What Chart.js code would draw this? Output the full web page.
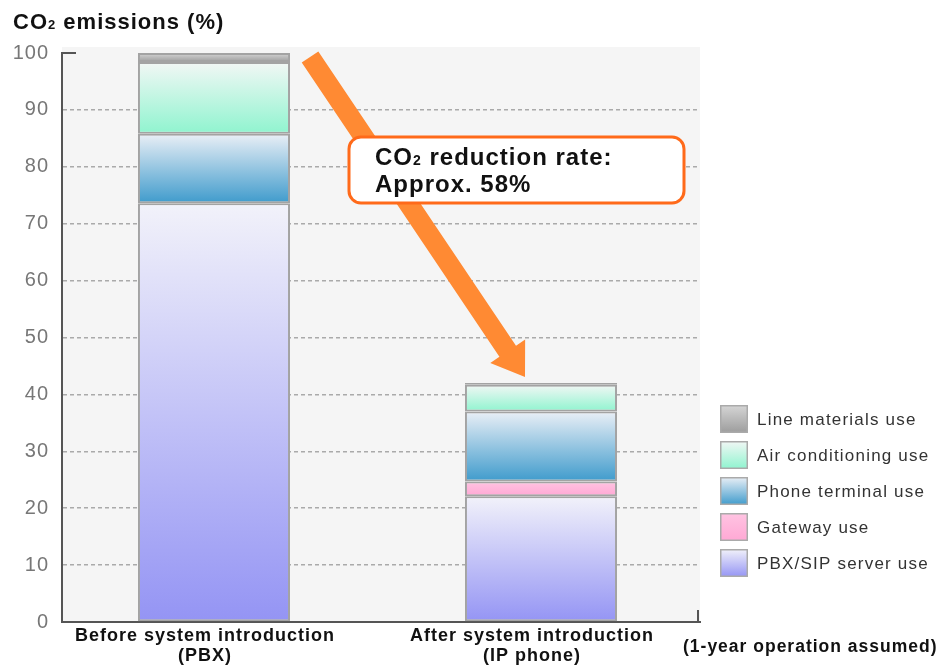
<!DOCTYPE html>
<html>
<head>
<meta charset="utf-8">
<script src="https://cdn.jsdelivr.net/npm/chart.js@4.4.1/dist/chart.umd.min.js"></script>
<style>
  html, body { margin: 0; padding: 0; background: #fff; }
  #wrap { width: 946px; height: 667px; position: relative; }
</style>
</head>
<body>
<div id="wrap"><canvas id="co2Chart"></canvas></div>
<script>
/* ========================================
   CO2 emissions before / after IP phone
   ======================================== */

// data (bottom segment first)
const categories = [['Before system introduction', '(PBX)'], ['After system introduction', '(IP phone)']];
const seriesNames = ['PBX/SIP server use', 'Gateway use', 'Phone terminal use', 'Air conditioning use', 'Line materials use'];
const pbxServerUse = [73.6, 22.1];
const gatewayUse = [null, 2.6];
const phoneTerminalUse = [12.2, 12.3];
const airConditioningUse = [12.6, 4.7];
const lineMaterialsUse = [1.6, 0.3];
const yTicks = [0, 10, 20, 30, 40, 50, 60, 70, 80, 90, 100];
const calloutLines = ['reduction rate:', 'Approx. 58%'];
const footNote = '(1-year operation assumed)';

// gradient colours, top -> bottom of each segment
const segColors = [
    ['#f2f2fa', '#9494f4'],
    ['#ffc4e2', '#ffa8d4'],
    ['#eaeff6', '#3f9bcc'],
    ['#f2f7f5', '#8ff4cf'],
    ['#d6d6d6', '#9c9c9c']
];

// category axis whose band runs a little past the plot edges
class WideCategoryScale extends Chart.CategoryScale {
    configure() {
        super.configure();
        this._startPixel -= 11.5;
        this._endPixel += 4.5;
        this._length = this._endPixel - this._startPixel;
    }
}
WideCategoryScale.id = 'wideCategory';
WideCategoryScale.defaults = Chart.CategoryScale.defaults;
Chart.register(WideCategoryScale);

function segGradient(idx) {
    const [top, bottom] = segColors[idx];
    return function (ctx) {
        const chart = ctx.chart;
        const y = chart.scales.y;
        if (!chart.chartArea || !y || ctx.dataIndex === undefined) return bottom;
        const ds = chart.data.datasets;
        let start = 0;
        for (let i = 0; i < ctx.datasetIndex; i++) start += ds[i].data[ctx.dataIndex] || 0;
        const end = start + (ds[ctx.datasetIndex].data[ctx.dataIndex] || 0);
        const y0 = y.getPixelForValue(start), y1 = y.getPixelForValue(end);
        if (!isFinite(y0) || !isFinite(y1) || y0 === y1) return bottom;
        const g = chart.ctx.createLinearGradient(0, y1, 0, y0);
        g.addColorStop(0, top);
        g.addColorStop(1, bottom);
        return g;
    };
}

function subText(ctx, x, y, parts) {
    parts.forEach(p => {
        ctx.font = p[1];
        ctx.fillText(p[0], x, y);
        x += ctx.measureText(p[0]).width;
    });
    return x;
}

const FONT = '"Liberation Sans", Arial, sans-serif';

const decorPlugin = {
    id: 'decor',
    beforeDraw(chart) {
        const { ctx, chartArea: a } = chart;
        ctx.letterSpacing = '1px';
        ctx.save();
        ctx.fillStyle = '#f5f5f5';
        ctx.fillRect(a.left, a.top - 6, a.right - a.left, a.bottom - a.top + 6);
        ctx.restore();
    },
    afterDraw(chart) {
        const { ctx, chartArea: a } = chart;
        const y = chart.scales.y;
        ctx.save();

        // axis end ticks
        ctx.strokeStyle = '#555';
        ctx.lineWidth = 2;
        ctx.beginPath();
        ctx.moveTo(a.left, a.top); ctx.lineTo(a.left + 14, a.top);
        ctx.moveTo(a.right - 2, a.bottom); ctx.lineTo(a.right - 2, a.bottom - 12);
        ctx.stroke();

        // title
        ctx.fillStyle = '#111';
        ctx.textBaseline = 'alphabetic';
        ctx.textAlign = 'left';
        subText(ctx, 13, 29, [
            ['CO', 'bold 22px ' + FONT],
            ['2', 'bold 13px ' + FONT],
            [' emissions (%)', 'bold 22px ' + FONT]
        ]);

        // arrow from bar 1 top to bar 2 top
        const total = i => chart.data.datasets.reduce((s, d) => s + (d.data[i] || 0), 0);
        const bar1 = chart.getDatasetMeta(4).data[0];
        const bar2 = chart.getDatasetMeta(4).data[1];
        const sx = bar1.x + bar1.width / 2 + 20, sy = y.getPixelForValue(total(0)) + 4;
        const tx = bar2.x - 16, ty = y.getPixelForValue(total(1)) - 6;
        const dx = tx - sx, dy = ty - sy, len = Math.hypot(dx, dy);
        const ux = dx / len, uy = dy / len, nx = -uy, ny = ux;
        const hw = 10, headW = 21, headL = 31;
        const bx = tx - ux * headL, by = ty - uy * headL;
        ctx.fillStyle = '#ff8a33';
        ctx.beginPath();
        ctx.moveTo(sx + nx * hw, sy + ny * hw);
        ctx.lineTo(bx + nx * hw, by + ny * hw);
        ctx.lineTo(bx + nx * headW, by + ny * headW);
        ctx.lineTo(tx, ty);
        ctx.lineTo(bx - nx * headW, by - ny * headW);
        ctx.lineTo(bx - nx * hw, by - ny * hw);
        ctx.lineTo(sx - nx * hw, sy - ny * hw);
        ctx.closePath();
        ctx.fill();

        // callout box
        const cx = 349, cy = 137, cw = 335, ch = 66;
        ctx.beginPath();
        ctx.roundRect(cx, cy, cw, ch, 12);
        ctx.fillStyle = '#fff';
        ctx.fill();
        ctx.lineWidth = 3;
        ctx.strokeStyle = '#ff6a1a';
        ctx.stroke();
        ctx.fillStyle = '#111';
        subText(ctx, 375, 165, [
            ['CO', 'bold 24px ' + FONT],
            ['2', 'bold 14px ' + FONT],
            [' ' + calloutLines[0], 'bold 24px ' + FONT]
        ]);
        ctx.font = 'bold 24px ' + FONT;
        ctx.fillText(calloutLines[1], 375, 192);

        // legend (top item = top segment)
        ctx.font = '17px ' + FONT;
        ctx.letterSpacing = '1.2px';
        ctx.textBaseline = 'middle';
        for (let k = 0; k < seriesNames.length; k++) {
            const idx = seriesNames.length - 1 - k;
            const lx = 720, ly = 405 + k * 36;
            const g = ctx.createLinearGradient(0, ly, 0, ly + 28);
            g.addColorStop(0, segColors[idx][0]);
            g.addColorStop(1, segColors[idx][1]);
            ctx.fillStyle = g;
            ctx.fillRect(lx, ly, 28, 28);
            ctx.strokeStyle = '#aaa';
            ctx.lineWidth = 1.5;
            ctx.strokeRect(lx + 0.75, ly + 0.75, 26.5, 26.5);
            ctx.fillStyle = '#333';
            ctx.fillText(seriesNames[idx], 757, ly + 15);
        }

        // foot note
        ctx.letterSpacing = '1px';
        ctx.fillStyle = '#111';
        ctx.textBaseline = 'alphabetic';
        ctx.font = 'bold 17.5px ' + FONT;
        ctx.fillText(footNote, 683, 652);
        ctx.restore();
    }
};

const datasetArrays = [pbxServerUse, gatewayUse, phoneTerminalUse, airConditioningUse, lineMaterialsUse];

new Chart(document.getElementById('co2Chart'), {
    type: 'bar',
    data: {
        labels: categories,
        datasets: datasetArrays.map((arr, i) => ({
            label: seriesNames[i],
            data: arr,
            backgroundColor: segGradient(i),
            borderColor: '#a3a3a3',
            borderWidth: 2,
            borderSkipped: false,
            categoryPercentage: 1,
            barPercentage: 0.465
        }))
    },
    options: {
        responsive: true,
        maintainAspectRatio: false,
        animation: false,
        layout: { padding: { left: 0, top: 53, right: 246, bottom: 0 } },
        plugins: {
            legend: { display: false },
            tooltip: { enabled: false }
        },
        scales: {
            x: {
                type: 'wideCategory',
                stacked: true,
                grid: { display: false, drawTicks: false },
                border: { display: true, color: '#555', width: 2 },
                ticks: {
                    color: '#111',
                    padding: 4,
                    labelOffset: -9,
                    font: { family: FONT, size: 18, weight: 'bold', lineHeight: 1.1 }
                },
                afterFit(scale) { scale.height = 45; }
            },
            y: {
                stacked: true,
                min: 0,
                max: 100,
                afterBuildTicks(scale) { scale.ticks = yTicks.map(v => ({ value: v })); },
                grid: {
                    drawTicks: false,
                    color: c => (c.tick && (c.tick.value === 0 || c.tick.value === 100)) ? 'rgba(0,0,0,0)' : '#aaa',
                    lineWidth: 1.5
                },
                border: { display: true, color: '#555', width: 2, dash: [4, 3] },
                ticks: {
                    color: '#777',
                    padding: 13,
                    font: { family: FONT, size: 20 }
                },
                afterFit(scale) { scale.width = 62; }
            }
        }
    },
    plugins: [decorPlugin]
});
</script>
</body>
</html>
